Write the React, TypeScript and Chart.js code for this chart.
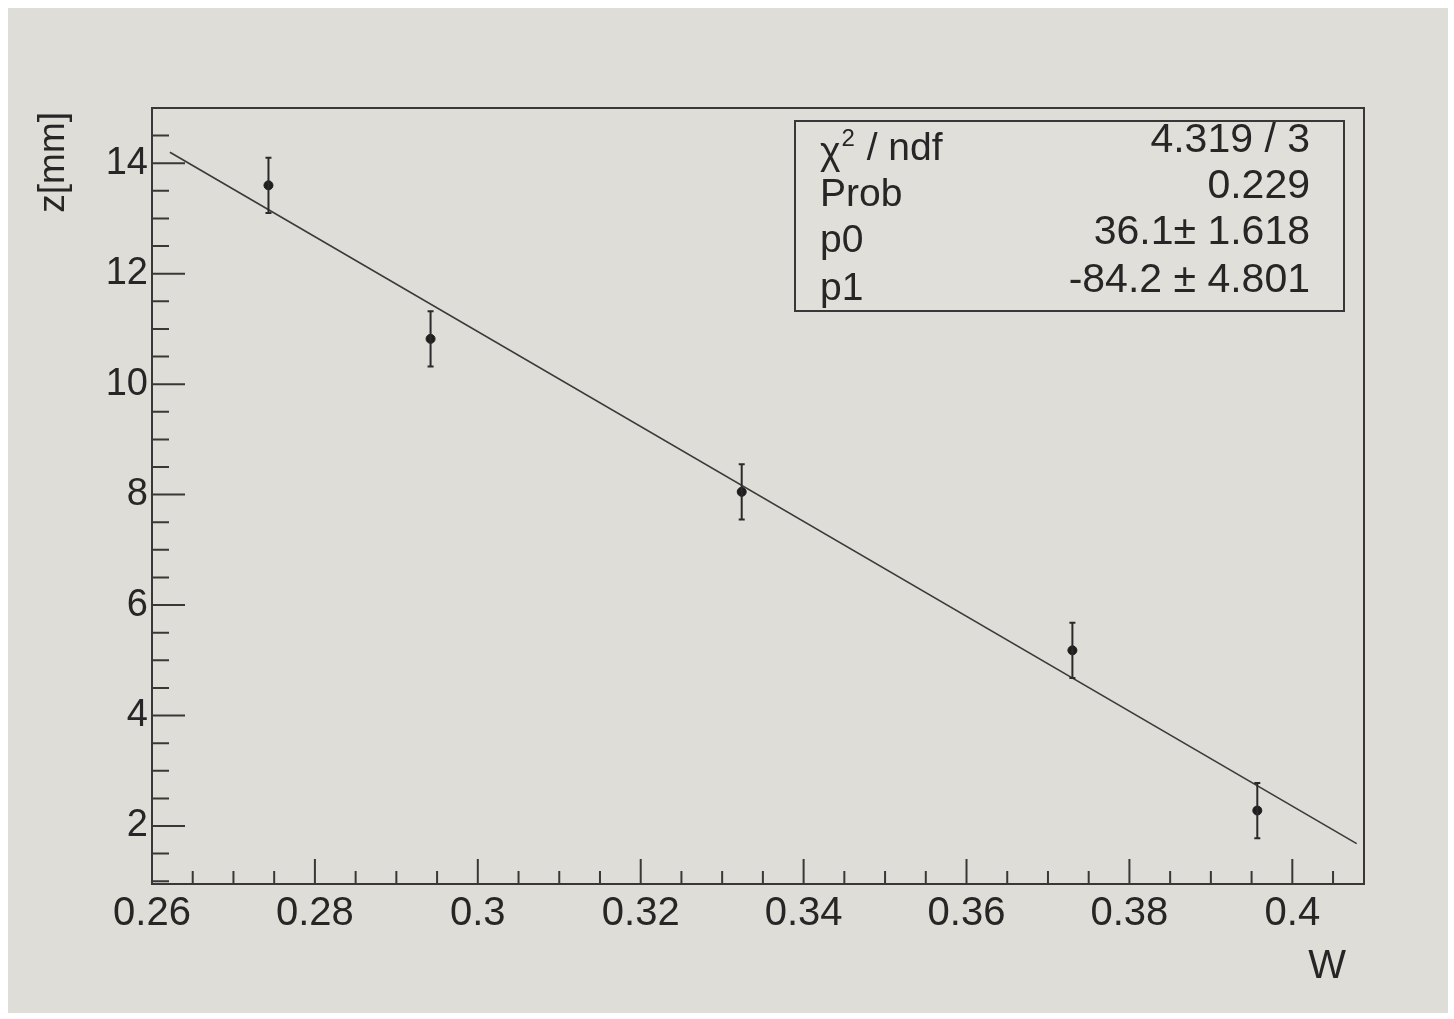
import React, { useEffect, useRef } from "react";
import { Chart, registerables } from "chart.js";
Chart.register(...registerables);

// Measured points
const wValues = [0.2743, 0.2942, 0.3324, 0.373, 0.3957];
const zValues = [13.6, 10.82, 8.05, 5.18, 2.28];
const zErrors = [0.5, 0.5, 0.5, 0.5, 0.5];
// Fit line end points (as drawn)
const fitW = [0.2622, 0.4079];
const fitZ = [14.2, 1.68];
// Axis ranges / ticks
const xRange = [0.26, 0.4088];
const yRange = [0.95, 15.0];
const xMajorStep = 0.02;
const xMinorStep = 0.005;
const yMajorStep = 2;
const yMinorStep = 0.5;
// Stats box
const statsLabels = ["χ2 / ndf", "Prob", "p0", "p1"];
const statsValues = ["4.319 / 3", "0.229", "36.1\u00B1 1.618", "-84.2 \u00B1 4.801"];
const xTitle = "W";
const yTitle = "z[mm]";

const FONT = "'Liberation Sans', Arial, Helvetica, sans-serif";
const INK = "#262626";
const LINE = "#383838";

const rootPlugin = {
  id: "rootStyle",
  beforeDraw(chart: any) {
    const ctx = chart.ctx;
    ctx.save();
    ctx.fillStyle = "#ffffff";
    ctx.fillRect(0, 0, chart.width, chart.height);
    ctx.fillStyle = "#dfddd7";
    ctx.fillRect(8, 8, chart.width - 14, chart.height - 14);
    ctx.restore();
  },
  afterDatasetsDraw(chart: any) {
    const ctx = chart.ctx;
    const xs = chart.scales.x;
    const ys = chart.scales.y;
    ctx.save();
    ctx.strokeStyle = "#2a2a2a";
    ctx.lineWidth = 2;
    for (let i = 0; i < wValues.length; i++) {
      const px = xs.getPixelForValue(wValues[i]);
      const y1 = ys.getPixelForValue(zValues[i] - zErrors[i]);
      const y2 = ys.getPixelForValue(zValues[i] + zErrors[i]);
      ctx.beginPath();
      ctx.moveTo(px, y1);
      ctx.lineTo(px, y2);
      ctx.moveTo(px - 3, y1);
      ctx.lineTo(px + 3, y1);
      ctx.moveTo(px - 3, y2);
      ctx.lineTo(px + 3, y2);
      ctx.stroke();
    }
    ctx.restore();
  },
  afterDraw(chart: any) {
    const ctx = chart.ctx;
    const a = chart.chartArea;
    const xs = chart.scales.x;
    const ys = chart.scales.y;
    ctx.save();
    // frame
    ctx.strokeStyle = LINE;
    ctx.lineWidth = 2;
    ctx.strokeRect(a.left, a.top, a.right - a.left, a.bottom - a.top);
    // x ticks (inward)
    ctx.beginPath();
    const nx = Math.floor((xRange[1] - xRange[0]) / xMinorStep + 1e-6);
    for (let i = 0; i <= nx; i++) {
      const v = xRange[0] + i * xMinorStep;
      const px = xs.getPixelForValue(v);
      const r = (v - xRange[0]) / xMajorStep;
      const major = Math.abs(r - Math.round(r)) < 1e-6;
      const len = major ? 25 : 13;
      ctx.moveTo(px, a.bottom);
      ctx.lineTo(px, a.bottom - len);
    }
    // y ticks (inward)
    const yStart = Math.ceil(yRange[0] / yMinorStep) * yMinorStep;
    for (let v = yStart; v < yRange[1] - 0.01; v += yMinorStep) {
      const py = ys.getPixelForValue(v);
      const major = Math.abs(v / yMajorStep - Math.round(v / yMajorStep)) < 1e-6;
      const len = major ? 33 : 17;
      ctx.moveTo(a.left, py);
      ctx.lineTo(a.left + len, py);
    }
    ctx.stroke();

    // axis titles
    ctx.fillStyle = INK;
    ctx.font = `40px ${FONT}`;
    ctx.textAlign = "right";
    ctx.textBaseline = "alphabetic";
    ctx.fillText(xTitle, a.right - 18, 978);
    ctx.save();
    ctx.translate(64, a.top + 4);
    ctx.rotate(-Math.PI / 2);
    ctx.font = `37px ${FONT}`;
    ctx.textAlign = "right";
    ctx.fillText(yTitle, 0, 0);
    ctx.restore();

    // stats box
    const bx = 795, by = 121, bw = 549, bh = 190;
    ctx.fillStyle = "#e1dfd9";
    ctx.fillRect(bx, by, bw, bh);
    ctx.strokeStyle = LINE;
    ctx.lineWidth = 2;
    ctx.strokeRect(bx, by, bw, bh);
    const rows = [145, 191, 237, 285];
    ctx.fillStyle = INK;
    ctx.textBaseline = "middle";
    for (let i = 0; i < statsLabels.length; i++) {
      const yl = rows[i] + 4;
      const yv = rows[i] - 4;
      ctx.textAlign = "left";
      if (i === 0) {
        const parts = statsLabels[0].split("2");
        ctx.font = `39px ${FONT}`;
        ctx.fillText(parts[0], 820, yl + 4);
        const w0 = ctx.measureText(parts[0]).width;
        ctx.font = `24px ${FONT}`;
        ctx.fillText("2", 820 + w0 + 1, yl - 10);
        const w1 = ctx.measureText("2").width;
        ctx.font = `39px ${FONT}`;
        ctx.fillText(parts[1], 820 + w0 + w1 + 2, yl);
      } else {
        ctx.font = `39px ${FONT}`;
        ctx.fillText(statsLabels[i], 820, yl);
      }
      ctx.textAlign = "right";
      ctx.font = `41px ${FONT}`;
      ctx.fillText(statsValues[i], 1310, yv);
    }
    ctx.restore();
  },
};

export default function App() {
  const ref = useRef<HTMLCanvasElement | null>(null);
  useEffect(() => {
    document.body.style.margin = "0";
    document.body.style.overflow = "hidden";
    if (!ref.current) return;
    const chart = new Chart(ref.current, {
      type: "scatter",
      data: {
        datasets: [
          {
            type: "line",
            label: "fit",
            data: fitW.map((w, i) => ({ x: w, y: fitZ[i] })),
            borderColor: "#3a3a3a",
            borderWidth: 1.6,
            pointRadius: 0,
            fill: false,
          } as any,
          {
            label: "data",
            data: wValues.map((w, i) => ({ x: w, y: zValues[i] })),
            pointStyle: "circle",
            pointRadius: 4.5,
            backgroundColor: "#1e1e1e",
            borderColor: "#1e1e1e",
          },
        ],
      },
      options: {
        responsive: false,
        animation: false,
        layout: { padding: { top: 108, right: 90, left: 0, bottom: 0 } },
        plugins: { legend: { display: false }, tooltip: { enabled: false } },
        scales: {
          x: {
            type: "linear",
            min: xRange[0],
            max: xRange[1],
            grid: { display: false, drawTicks: false },
            border: { display: false },
            afterFit: (s: any) => {
              s.height = 135;
            },
            ticks: {
              stepSize: xMajorStep,
              includeBounds: false,
              padding: 6,
              color: INK,
              font: { size: 40, family: FONT },
              maxRotation: 0,
              autoSkip: false,
              callback: (v: any) => String(Number(Number(v).toFixed(3))),
            },
          },
          y: {
            type: "linear",
            min: yRange[0],
            max: yRange[1],
            grid: { display: false, drawTicks: false },
            border: { display: false },
            afterFit: (s: any) => {
              s.width = 152;
            },
            ticks: {
              stepSize: yMajorStep,
              includeBounds: false,
              padding: 4,
              color: INK,
              font: { size: 38, family: FONT },
              autoSkip: false,
              callback: (v: any) => String(v),
            },
          },
        },
      },
      plugins: [rootPlugin],
    });
    return () => chart.destroy();
  }, []);
  return (
    <div style={{ width: 1454, height: 1019 }}>
      <canvas ref={ref} width={1454} height={1019} />
    </div>
  );
}
